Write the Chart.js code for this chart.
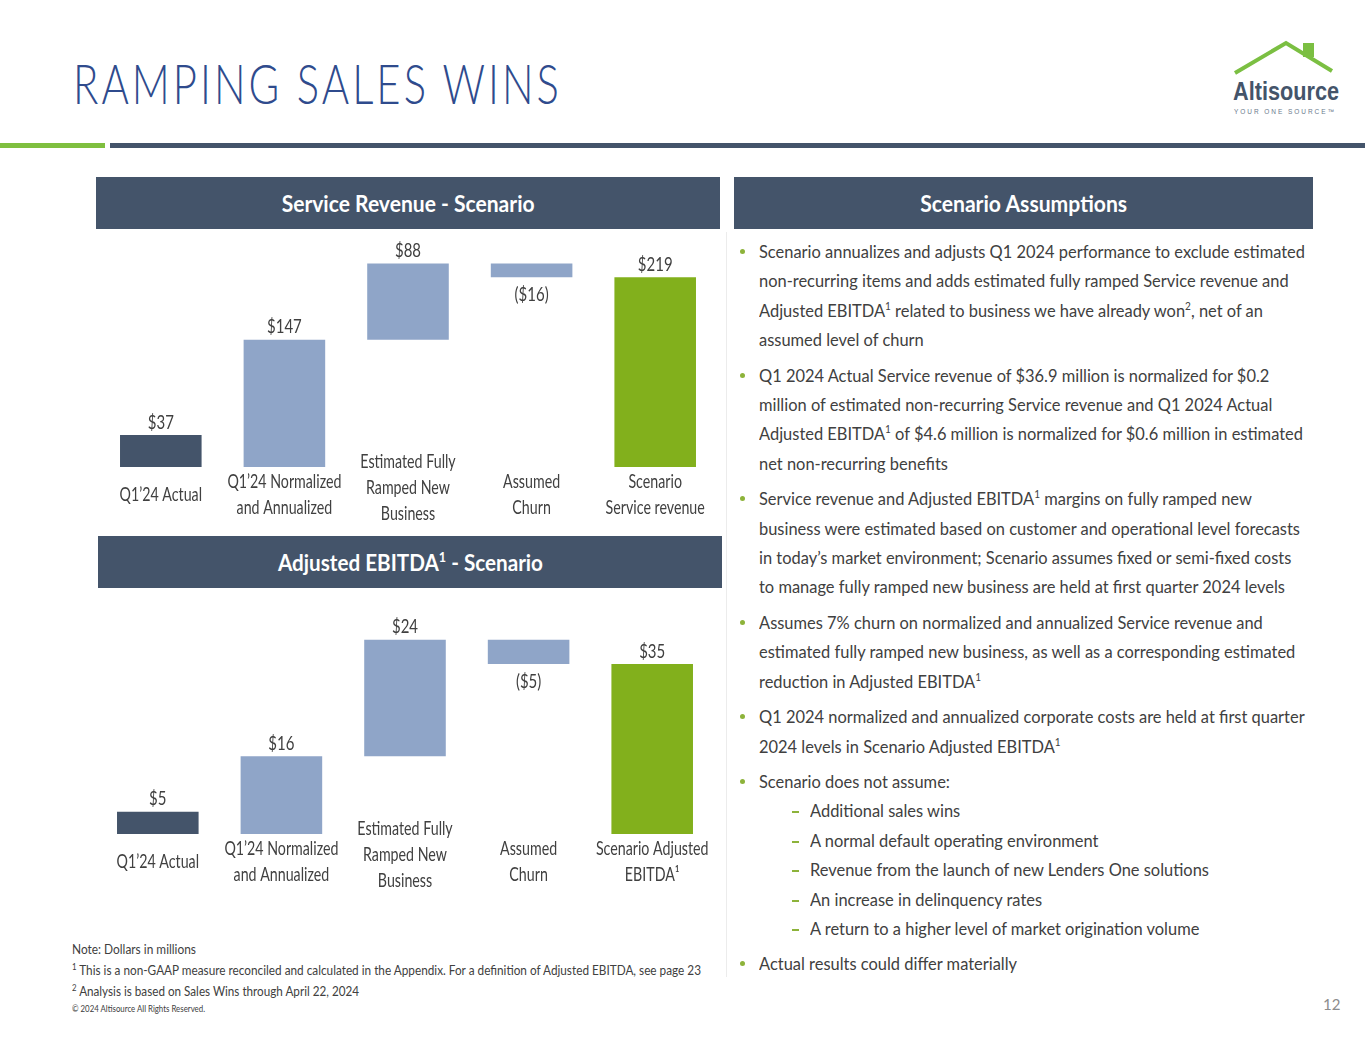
<!DOCTYPE html>
<html>
<head>
<meta charset="utf-8">
<script src="https://cdn.jsdelivr.net/npm/chart.js@4.4.1/dist/chart.umd.min.js"></script>
<style>
  body { margin: 0; background: #fff; font-family: Lato, 'Open Sans', sans-serif; color: #404040; }
  #page { position: relative; width: 1365px; height: 1055px; overflow: hidden; }
  .abs { position: absolute; }
  .fit { display: inline-block; white-space: nowrap; transform-origin: left top; }
  #title { left: 73px; top: 50px; font-size: 55px; font-weight: 300; letter-spacing: 4px; color: #2f4b8d; }
  .hdr { position: absolute; background: #44546a; color: #fff; font-weight: bold; font-size: 23px; text-align: center; line-height: 52px; height: 52px; }
  .hdr .fit { transform-origin: center top; }
  .hdr sup { font-size: 14px; line-height: 0; }
  #notes { left: 72px; top: 939px; font-size: 13.5px; line-height: 21px; }
  #notes div { white-space: nowrap; }
  #notes sup { font-size: 9px; line-height: 0; }
  #copy { left: 72px; top: 1003px; font-size: 9px; }
  #pnum { left: 1323px; top: 995px; font-size: 15px; color: #8c8c8c; }
  #list { left: 734px; top: 237px; width: 620px; font-size: 18px; line-height: 29.4px; }
  #list .p { position: relative; padding-left: 25px; margin-bottom: 6px; }
  #list .p::before { content: ''; position: absolute; left: 6px; top: 12px; width: 5px; height: 5px; border-radius: 50%; background: #8db33a; }
  #list .s { position: relative; padding-left: 76px; }
  #list .s::before { content: ''; position: absolute; left: 58px; top: 15px; width: 7px; height: 2px; background: #8db33a; }
  #list sup { font-size: 11px; line-height: 0; }
</style>
</head>
<body>
<div id="page">
  <div id="title" class="abs"><span class="fit" data-w="489">RAMPING SALES WINS</span></div>

  <svg class="abs" style="left:1225px;top:36px" width="130" height="85">
    <polyline points="10,37 61,7 107,35" fill="none" stroke="#7bbf42" stroke-width="4"/>
    <rect x="78" y="7" width="11" height="14" fill="#7bbf42"/>
    <text x="8" y="64" font-family="Liberation Sans, Arial, sans-serif" font-weight="bold" font-size="25" fill="#44546a" textLength="106" lengthAdjust="spacingAndGlyphs">Altisource</text>
    <text x="9" y="78" font-family="Liberation Sans, Arial, sans-serif" font-size="6.5" fill="#6b7a8c" textLength="100">YOUR ONE SOURCE™</text>
  </svg>

  <div class="abs" style="left:0;top:143px;width:105px;height:5px;background:#7fbf3f"></div>
  <div class="abs" style="left:110px;top:143px;width:1255px;height:5px;background:#44546a"></div>

  <div class="hdr" style="left:96px;top:177px;width:624px"><span class="fit" data-w="253">Service Revenue - Scenario</span></div>
  <div class="hdr" style="left:98px;top:536px;width:624px"><span class="fit" data-w="265">Adjusted EBITDA<sup>1</sup> - Scenario</span></div>
  <div class="hdr" style="left:734px;top:177px;width:579px"><span class="fit" data-w="207">Scenario Assumptions</span></div>

  <div class="abs" style="left:726px;top:232px;width:1px;height:745px;background:#ececec"></div>

  <div class="abs" style="left:96px;top:229px;width:625px;height:301px"><canvas id="revChart"></canvas></div>
  <div class="abs" style="left:96px;top:588px;width:625px;height:312px"><canvas id="ebitdaChart"></canvas></div>

  <div id="list" class="abs">
    <div class="p"><span class="fit lt">Scenario annualizes and adjusts Q1 2024 performance to exclude estimated<br>non-recurring items and adds estimated fully ramped Service revenue and<br>Adjusted EBITDA<sup>1</sup> related to business we have already won<sup>2</sup>, net of an<br>assumed level of churn</span></div>
    <div class="p"><span class="fit lt">Q1 2024 Actual Service revenue of $36.9 million is normalized for $0.2<br>million of estimated non-recurring Service revenue and Q1 2024 Actual<br>Adjusted EBITDA<sup>1</sup> of $4.6 million is normalized for $0.6 million in estimated<br>net non-recurring benefits</span></div>
    <div class="p"><span class="fit lt">Service revenue and Adjusted EBITDA<sup>1</sup> margins on fully ramped new<br>business were estimated based on customer and operational level forecasts<br>in today’s market environment; Scenario assumes fixed or semi-fixed costs<br>to manage fully ramped new business are held at first quarter 2024 levels</span></div>
    <div class="p"><span class="fit lt">Assumes 7% churn on normalized and annualized Service revenue and<br>estimated fully ramped new business, as well as a corresponding estimated<br>reduction in Adjusted EBITDA<sup>1</sup></span></div>
    <div class="p"><span class="fit lt">Q1 2024 normalized and annualized corporate costs are held at first quarter<br>2024 levels in Scenario Adjusted EBITDA<sup>1</sup></span></div>
    <div class="p" style="margin-bottom:0"><span class="fit lt">Scenario does not assume:</span></div>
    <div class="s"><span class="fit lt">Additional sales wins</span></div>
    <div class="s"><span class="fit lt">A normal default operating environment</span></div>
    <div class="s"><span class="fit lt">Revenue from the launch of new Lenders One solutions</span></div>
    <div class="s"><span class="fit lt">An increase in delinquency rates</span></div>
    <div class="s" style="margin-bottom:6px"><span class="fit lt">A return to a higher level of market origination volume</span></div>
    <div class="p"><span class="fit lt">Actual results could differ materially</span></div>
  </div>

  <div id="notes" class="abs">
    <div><span class="fit" data-w="124">Note: Dollars in millions</span></div>
    <div><span class="fit" data-w="629"><sup>1</sup> This is a non-GAAP measure reconciled and calculated in the Appendix. For a definition of Adjusted EBITDA, see page 23</span></div>
    <div><span class="fit" data-w="287"><sup>2</sup> Analysis is based on Sales Wins through April 22, 2024</span></div>
  </div>
  <div id="copy" class="abs"><span class="fit" data-w="133">© 2024 Altisource All Rights Reserved.</span></div>
  <div id="pnum" class="abs">12</div>
</div>

<script>
'use strict';

// service revenue waterfall ($ millions)
let revLabels = [['Q1’24 Actual'], ['Q1’24 Normalized', 'and Annualized'], ['Estimated Fully', 'Ramped New', 'Business'], ['Assumed', 'Churn'], ['Scenario', 'Service revenue']];
let revValues = [36.9, 147, 88, -16, 219];

// adjusted EBITDA waterfall ($ millions)
let ebitdaLabels = [['Q1’24 Actual'], ['Q1’24 Normalized', 'and Annualized'], ['Estimated Fully', 'Ramped New', 'Business'], ['Assumed', 'Churn'], ['Scenario Adjusted', 'EBITDA¹']];
let ebitdaValues = [4.6, 16, 24, -5, 35];

// 'total' bars start at zero, 'step' bars float on the running total
let barKinds = ['total', 'total', 'step', 'step', 'total'];
let barColors = ['#44546a', '#8fa5c8', '#8fa5c8', '#8fa5c8', '#82b01c'];

let textColor = '#404040';
let fontFamily = "Lato, 'Open Sans', sans-serif";

// squeeze html text to the slide's narrow font widths
document.querySelectorAll('.fit[data-w]').forEach(function (el) {
    let w = el.getBoundingClientRect().width;
    el.style.transform = `scaleX(${el.dataset.w / w})`;
});
let listSpans = document.querySelectorAll('#list .lt');
let widest = 0;
listSpans.forEach(function (el) { widest = Math.max(widest, el.getBoundingClientRect().width); });
listSpans.forEach(function (el) { el.style.transform = `scaleX(${546 / widest})`; });

function floatingBars(values) {
    let running = 0;
    let out = [];
    for (let i = 0; i < values.length; i++) {
        if (barKinds[i] === 'total') {
            out.push([0, values[i]]);
            running = values[i];
        } else {
            out.push([running, running + values[i]]);
            running += values[i];
        }
    }
    return out;
}

function money(v) {
    let r = Math.round(Math.abs(v));
    return v < 0 ? `($${r})` : `$${r}`;
}

let squeeze = 1;
function narrowText(ctx, str, x, y) {
    ctx.save();
    ctx.translate(x, y);
    ctx.scale(squeeze, 1);
    ctx.fillText(str, 0, 0);
    ctx.restore();
}

let waterfallText = {
    id: 'waterfallText',
    afterDatasetsDraw(chart) {
        let ctx = chart.ctx;
        let meta = chart.getDatasetMeta(0);
        let values = chart.config.options.plugins.waterfallText.values;
        let cats = chart.data.labels;
        let bottom = chart.chartArea.bottom;
        ctx.save();
        ctx.fillStyle = textColor;
        ctx.textAlign = 'center';
        ctx.textBaseline = 'middle';
        ctx.font = `19px ${fontFamily}`;
        squeeze = 114 / ctx.measureText('Q1’24 Normalized').width;
        meta.data.forEach(function (bar, i) {
            let top = Math.min(bar.y, bar.base);
            let low = Math.max(bar.y, bar.base);
            ctx.font = `20px ${fontFamily}`;
            if (values[i] < 0) {
                narrowText(ctx, money(values[i]), bar.x, low + 17);
            } else {
                narrowText(ctx, money(values[i]), bar.x, top - 13);
            }
            ctx.font = `19px ${fontFamily}`;
            let lines = cats[i];
            let lh = 26;
            let mid = bottom + 28 - (lines.length > 2 ? 7 : 0);
            let y0 = mid - (lines.length - 1) * lh / 2;
            lines.forEach(function (line, k) {
                narrowText(ctx, line, bar.x, y0 + k * lh);
            });
        });
        ctx.restore();
    }
};

function waterfallChart(canvasId, labels, values, yMax, pad) {
    let ctx = document.getElementById(canvasId).getContext('2d');
    return new Chart(ctx, {
        type: 'bar',
        data: {
            labels: labels,
            datasets: [{
                data: floatingBars(values),
                backgroundColor: barColors,
                borderWidth: 0,
                borderSkipped: false,
                barPercentage: 0.66,
                categoryPercentage: 1
            }]
        },
        options: {
            responsive: true,
            maintainAspectRatio: false,
            animation: false,
            layout: { padding: pad },
            scales: {
                x: { display: false },
                y: { display: false, min: 0, max: yMax }
            },
            plugins: {
                legend: { display: false },
                tooltip: { enabled: false },
                waterfallText: { values: values }
            }
        },
        plugins: [waterfallText]
    });
}

waterfallChart('revChart', revLabels, revValues, 261, { top: 12, bottom: 63, left: 3, right: 4 });
waterfallChart('ebitdaChart', ebitdaLabels, ebitdaValues, 44.5, { top: 30, bottom: 66, left: 0, right: 7 });
</script>
</body>
</html>
